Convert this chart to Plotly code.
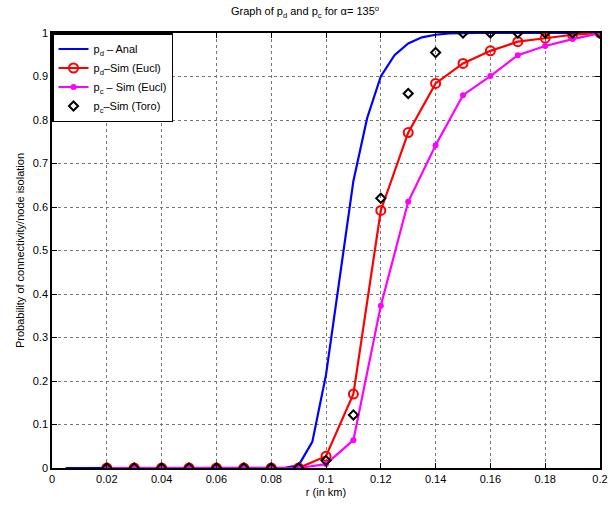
import plotly.graph_objects as go

# Analytical p_d curve
r_anal = [0.005, 0.01, 0.015, 0.02, 0.025, 0.03, 0.035, 0.04, 0.045, 0.05, 0.055, 0.06, 0.065, 0.07,
          0.075, 0.08, 0.085, 0.09, 0.095, 0.1, 0.105, 0.11, 0.115, 0.12, 0.125, 0.13, 0.135, 0.14,
          0.145, 0.15, 0.155, 0.16, 0.165, 0.17, 0.175, 0.18, 0.185, 0.19, 0.195, 0.2]
pd_anal = [0, 0, 0, 0, 0, 0, 0, 0, 0, 0, 0, 0, 0, 0,
           0, 0, 0.0005, 0.006, 0.06, 0.214, 0.44, 0.66, 0.804, 0.90, 0.949, 0.976, 0.99, 0.996,
           0.999, 1, 1, 1, 1, 1, 1, 1, 1, 1, 1, 1]

# Simulation points
r_sim = [0.02, 0.03, 0.04, 0.05, 0.06, 0.07, 0.08, 0.09, 0.1, 0.11, 0.12, 0.13, 0.14, 0.15,
         0.16, 0.17, 0.18, 0.19, 0.2]
pd_sim_eucl = [0, 0, 0, 0, 0, 0, 0, 0, 0.027, 0.17, 0.592, 0.771, 0.884, 0.930,
               0.959, 0.980, 0.988, 0.996, 1]
pc_sim_eucl = [0, 0, 0, 0, 0, 0, 0, 0, 0.009, 0.064, 0.373, 0.612, 0.742, 0.857,
               0.901, 0.949, 0.970, 0.986, 1]
pc_sim_toro = [0, 0, 0, 0, 0, 0, 0, 0, 0.017, 0.122, 0.62, 0.861, 0.955, 1,
               1, 1, 1, 1, 1]

x_ticks = [0, 0.02, 0.04, 0.06, 0.08, 0.1, 0.12, 0.14, 0.16, 0.18, 0.2]
x_tick_labels = ["0", "0.02", "0.04", "0.06", "0.08", "0.1", "0.12", "0.14", "0.16", "0.18", "0.2"]
y_ticks = [0, 0.1, 0.2, 0.3, 0.4, 0.5, 0.6, 0.7, 0.8, 0.9, 1]
y_tick_labels = ["0", "0.1", "0.2", "0.3", "0.4", "0.5", "0.6", "0.7", "0.8", "0.9", "1"]

FONT = "Liberation Sans, Arial, sans-serif"

fig = go.Figure()
fig.add_trace(go.Scatter(x=r_anal, y=pd_anal, mode="lines",
                         line=dict(color="#0000ff", width=2.2),
                         name="p<sub>d</sub> – Anal"))
fig.add_trace(go.Scatter(x=r_sim, y=pd_sim_eucl, mode="lines+markers",
                         line=dict(color="#ff0000", width=2.2),
                         marker=dict(symbol="circle-open", size=9, color="#ff0000",
                                     line=dict(width=2, color="#ff0000")),
                         name="p<sub>d</sub>–Sim (Eucl)"))
fig.add_trace(go.Scatter(x=r_sim, y=pc_sim_eucl, mode="lines+markers",
                         line=dict(color="#ff00ff", width=2.2),
                         marker=dict(symbol="circle", size=6, color="#ff00ff"),
                         name="p<sub>c</sub> – Sim (Eucl)"))
fig.add_trace(go.Scatter(x=r_sim, y=pc_sim_toro, mode="markers",
                         marker=dict(symbol="diamond-open", size=7, color="#000000",
                                     line=dict(width=2, color="#000000")),
                         name="p<sub>c</sub>–Sim (Toro)"))

axis_common = dict(showline=True, linecolor="black", linewidth=1.5, mirror="ticks",
                   ticks="inside", ticklen=5, tickcolor="black", automargin=False,
                   showgrid=True, gridcolor="#777777", griddash="dot", gridwidth=1,
                   zeroline=False, tickfont=dict(size=11, color="black", family=FONT))

fig.update_layout(
    width=610, height=506,
    margin=dict(l=52, r=10, t=33, b=38),
    paper_bgcolor="white", plot_bgcolor="white",
    font=dict(family=FONT, size=11, color="black"),
    title=dict(text="Graph of p<sub>d</sub> and p<sub>c</sub> for α= 135<sup>o</sup>",
               x=0.5, xanchor="center", y=0.985, yanchor="top",
               font=dict(size=11, family=FONT, color="black")),
    xaxis=dict(range=[0, 0.2], tickvals=x_ticks, ticktext=x_tick_labels,
               title=dict(text="r (in km)", standoff=4, font=dict(size=11)), **axis_common),
    yaxis=dict(range=[0, 1], tickvals=y_ticks, ticktext=y_tick_labels,
               title=dict(text="Probability of connectivity/node isolation", standoff=6,
                          font=dict(size=11)), **axis_common),
    legend=dict(x=0, y=1, xanchor="left", yanchor="top", bgcolor="white",
                bordercolor="black", borderwidth=1.5, font=dict(size=11, family=FONT),
                tracegroupgap=0, itemwidth=30),
    showlegend=True,
)

fig.write_html("out.html")
